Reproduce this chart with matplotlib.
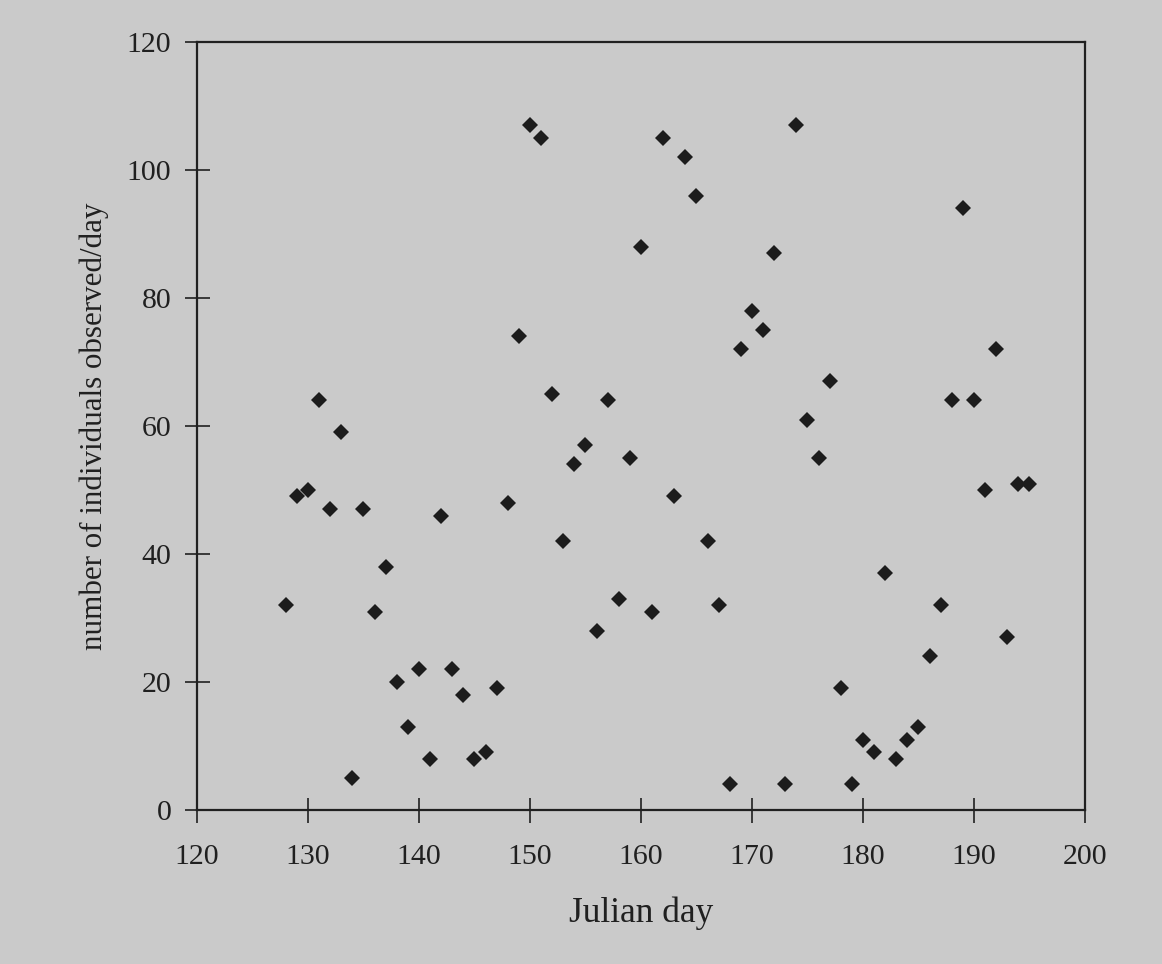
import matplotlib
matplotlib.use("Agg")
import matplotlib.pyplot as plt

days = list(range(128, 196))
counts = [32, 49, 50, 64, 47, 59, 5, 47, 31, 38, 20, 13, 22, 8, 46, 22, 18, 8, 9, 19,
          48, 74, 107, 105, 65, 42, 54, 57, 28, 64, 33, 55, 88, 31, 105, 49, 102, 96, 42, 32,
          4, 72, 78, 75, 87, 4, 107, 61, 55, 67, 19, 4, 11, 9, 37, 8, 11, 13, 24, 32,
          64, 94, 64, 50, 72, 27, 51, 51]
x_ticks = [120, 130, 140, 150, 160, 170, 180, 190, 200]
y_ticks = [0, 20, 40, 60, 80, 100, 120]

bg = "#cacaca"
plt.rcParams['font.family'] = ['Liberation Serif', 'DejaVu Serif']

fig = plt.figure(figsize=(11.62, 9.64), dpi=100, facecolor=bg)
ax = fig.add_axes([0.1695, 0.1598, 0.7642, 0.7967], facecolor=bg)

ax.plot(days, counts, linestyle='none', marker='D', markersize=7.8,
        color='#1c1c1c', markeredgewidth=0)

ax.set_xlim(120, 200)
ax.set_ylim(0, 120)
ax.set_xticks(x_ticks)
ax.set_yticks(y_ticks)
ax.tick_params(axis='both', direction='inout', length=18, width=1.2,
               colors='#202020', labelsize=21.5, labelcolor='#202020')
ax.tick_params(axis='x', pad=15.5)
ax.tick_params(axis='y', pad=9.5)
for s in ax.spines.values():
    s.set_linewidth(1.6)
    s.set_color('#202020')

ax.set_xlabel("Julian day", fontsize=25.5, color='#202020', labelpad=19)
ax.set_ylabel("number of individuals observed/day", fontsize=22.3, color='#202020', labelpad=13)

fig.savefig("out.png", dpi=100, facecolor=bg)
